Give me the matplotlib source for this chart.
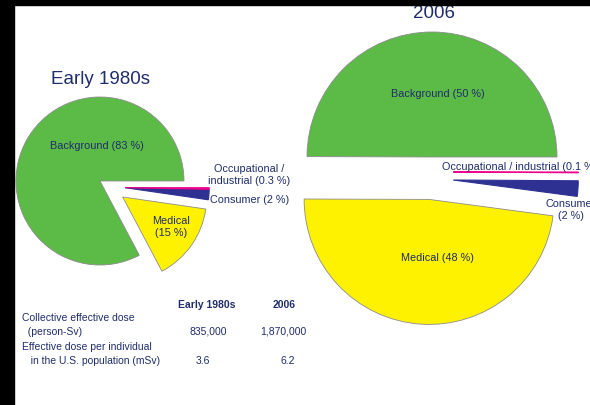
import matplotlib
matplotlib.use('Agg')
import matplotlib.pyplot as plt
from matplotlib.patches import Rectangle

plt.rcParams['font.family'] = ['Liberation Sans', 'DejaVu Sans']

# data
labels = ['Background', 'Medical', 'Consumer', 'Occupational / industrial']
share_1980 = [83, 15, 2, 0.3]
share_2006 = [50, 48, 2, 0.1]
colors = ['#5cba47', '#fff200', '#2e3192', '#ec008c']

years = ['Early 1980s', '2006']
collective_dose = ['835,000', '1,870,000']
dose_per_person = ['3.6', '6.2']

W, H = 590, 406
NAVY = '#1f2d6b'

fig = plt.figure(figsize=(5.9, 4.06), dpi=100)
ax = fig.add_axes([0, 0, 1, 1])


def py(y):
    # pixel row (from the top) -> data y
    return H - y


def draw_pie(values, cx, cy, r, med_explode, small_shift):
    wedges, _ = ax.pie(values, colors=colors, startangle=0, counterclock=True,
                       radius=r, center=(cx, py(cy)),
                       explode=[0, med_explode * r, 0, 0], frame=True,
                       wedgeprops=dict(edgecolor='#8c8c8c', linewidth=0.6))
    # consumer / occupational wedges pulled out together
    for w, (dx, dy) in zip(wedges[2:], small_shift):
        w.set_center((cx + dx * r, py(cy) + dy * r))
        w.set_edgecolor(w.get_facecolor())
        w.set_linewidth(0.8)
    return wedges


draw_pie(share_1980, 100, 182, 84, 0.33, [(0.30, -0.08), (0.30, -0.08)])
draw_pie(share_2006, 432, 158, 125, 0.34, [(0.17, -0.184), (0.17, -0.12)])

# titles
ax.text(100, py(80), years[0], fontsize=13.5, color=NAVY, ha='center', va='center')
ax.text(434, py(14), years[1], fontsize=13.5, color=NAVY, ha='center', va='center')

# left pie labels
lbl = dict(fontsize=7.8, color=NAVY, va='center')
ax.text(97, py(146), '%s (%g %%)' % (labels[0], share_1980[0]), ha='center', **lbl)
ax.text(171, py(227), '%s\n(%g %%)' % (labels[1], share_1980[1]), ha='center',
        linespacing=1.15, **lbl)
ax.text(249, py(175), 'Occupational /\nindustrial (%g %%)' % share_1980[3],
        ha='center', linespacing=1.15, **lbl)
ax.text(210, py(200), '%s (%g %%)' % (labels[2], share_1980[2]), ha='left', **lbl)

# right pie labels (the reference cuts these at the right edge)
ax.text(438, py(94), '%s (%g %%)' % (labels[0], share_2006[0]), ha='center', **lbl)
ax.text(437, py(258), '%s (%g %%)' % (labels[1], share_2006[1]), ha='center', **lbl)
ax.text(442, py(167), '%s (%g %%)' % (labels[3], share_2006[3]), ha='left', **lbl)
ax.text(571, py(210), '%s\n(%g %%)' % (labels[2], share_2006[2]), ha='center',
        linespacing=1.15, **lbl)

# dose table
tbl = dict(fontsize=7.5, color=NAVY, va='center')
ax.text(207, py(305), years[0], ha='center', fontweight='bold', **tbl)
ax.text(284, py(305), years[1], ha='center', fontweight='bold', **tbl)
ax.text(22, py(318), 'Collective effective dose', ha='left', **tbl)
ax.text(22, py(332), '  (person-Sv)', ha='left', **tbl)
ax.text(22, py(347), 'Effective dose per individual', ha='left', **tbl)
ax.text(22, py(361), '   in the U.S. population (mSv)', ha='left', **tbl)
ax.text(208, py(332), collective_dose[0], ha='center', **tbl)
ax.text(283, py(332), collective_dose[1], ha='center', **tbl)
ax.text(203, py(361), dose_per_person[0], ha='center', **tbl)
ax.text(288, py(361), dose_per_person[1], ha='center', **tbl)

# black borders at left and top
ax.add_patch(Rectangle((0, 0), 14, H, color='black', zorder=5))
ax.add_patch(Rectangle((0, H - 6), W, 6, color='black', zorder=5))

ax.set_xlim(0, W)
ax.set_ylim(0, H)
ax.set_aspect('equal')
ax.axis('off')

plt.savefig('out.png', dpi=100, facecolor='white')
